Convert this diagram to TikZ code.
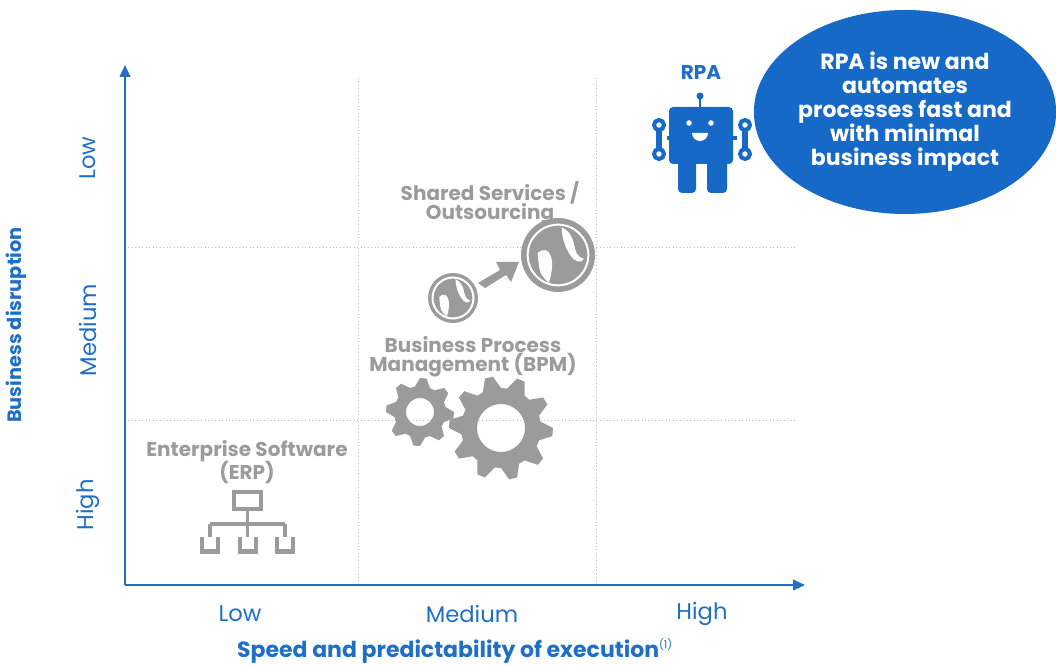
\documentclass[tikz,border=0pt]{standalone}
\usepackage{fontspec}
\setmainfont{Poppins}
\usetikzlibrary{arrows.meta, shapes.geometric}
\definecolor{axisblue}{HTML}{1F6FC5}
\definecolor{robotblue}{HTML}{1769C8}
\definecolor{icongray}{HTML}{9B9B9B}
\definecolor{gridgray}{HTML}{BDBDBD}
\tikzset{
    axis/.style={axisblue, line width=1.3pt, -{Triangle[length=9pt,width=8pt]}},
    grid/.style={gridgray, dotted, line width=0.6pt},
    tick/.style={axisblue, font=\fontsize{17}{19}\selectfont},
    label/.style={icongray, font=\fontsize{15}{16}\selectfont\bfseries, align=center},
    title/.style={axisblue, font=\fontsize{16.5}{18}\selectfont\bfseries}
}
\begin{document}
\begin{tikzpicture}[x=0.75pt, y=-0.75pt]
    \useasboundingbox (0,0) rectangle (1056,666);

    % grid
    \foreach \a in {358,596}{
        \draw[grid] (\a,78)--(\a,585);
    }
    \foreach \a in {247,420}{
        \draw[grid] (125,\a)--(795,\a);
    }

    % axes
    \coordinate (origin) at (125,585);
    \coordinate (ytop) at (125,65);
    \coordinate (xend) at (805,585);
    \draw[axis] (origin)--(ytop);
    \draw[axis] (origin)--(xend);

    % tick labels
    \node[tick, rotate=90] (ylow) at (88,158) {Low};
    \node[tick, rotate=90] (ymed) at (88,330) {Medium};
    \node[tick, rotate=90] (yhigh) at (88,505) {High};
    \node[tick] (xlow) at (240,614) {Low};
    \node[tick] (xmed) at (472,614) {Medium};
    \node[tick] (xhigh) at (702,614) {High};
    \node[title, rotate=90, font=\fontsize{14.5}{16}\selectfont\bfseries] (ytitle) at (16,325) {Business disruption};
    \node[title] (xtitle) at (455,651) {Speed and predictability of execution\textsuperscript{\fontsize{8}{9}\selectfont\mdseries(1)}};

    % labels
    \node[label] (erp) at (247,462) {Enterprise Software\\[-2pt](ERP)};
    \node[label] (bpm) at (473,357) {Business Process\\[-2pt]Management (BPM)};
    \node[label] (ssc) at (490,203) {Shared Services /\\[-2pt]Outsourcing};
    \node[title, font=\fontsize{15}{17}\selectfont\bfseries] (rpa) at (701,72) {RPA};

    % ERP hierarchy
    \fill[icongray] (232,490) rectangle (263,511);
    \fill[white] (236,494) rectangle (259,507);
    \draw[icongray, line width=2.5pt] (247.5,511)--(247.5,524) (210,524)--(285,524);
    \foreach \b in {210,247.5,285}{
        \draw[icongray, line width=2.5pt] (\b,524)--(\b,540);
        \fill[icongray] (\b-10,537) rectangle (\b+10,554);
        \fill[white] (\b-6,537) rectangle (\b+6,549);
    }

    % gears
    \foreach \cx/\cy/\ro/\ri/\n/\h in {420/412/34/26/8/14, 501/428/52/40/10/24}{
        \fill[icongray, even odd rule]
            plot[domain=0:360, samples=4*\n+1, variable=\t]
                ({\cx+(mod(floor(\t*\n/90+0.5),4)<2 ? \ro : \ri)*cos(\t)},
                 {\cy+(mod(floor(\t*\n/90+0.5),4)<2 ? \ro : \ri)*sin(\t)}) -- cycle
            (\cx,\cy) circle (\h);
    }

    % globes
    \foreach \cx/\cy/\r in {453/298/25, 558/255/37}{
        \fill[icongray] (\cx,\cy) circle (\r);
        \draw[white, line width=1.5pt] (\cx,\cy) circle (0.82*\r);
        \fill[white] (\cx-0.55*\r,\cy-0.05*\r) .. controls (\cx-0.2*\r,\cy-0.35*\r) and (\cx-0.05*\r,\cy+0.2*\r) .. (\cx-0.25*\r,\cy+0.75*\r)
            .. controls (\cx-0.5*\r,\cy+0.5*\r) .. cycle;
        \fill[white] (\cx+0.1*\r,\cy-0.75*\r) .. controls (\cx+0.6*\r,\cy-0.5*\r) and (\cx+0.3*\r,\cy) .. (\cx+0.7*\r,\cy+0.1*\r)
            .. controls (\cx+0.5*\r,\cy+0.4*\r) and (\cx+0.1*\r,\cy-0.2*\r) .. cycle;
    }
    \fill[icongray] (478,283)--(500,270)--(496,262)--(519,262)--(511,282)--(506,275)--(485,288)--cycle;

    % robot
    \fill[robotblue] (700,96) circle (3.5);
    \draw[robotblue, line width=2pt] (700,96)--(700,108);
    \fill[robotblue, rounded corners=3pt] (669,107) rectangle (733,164);
    \fill[robotblue, rounded corners=3pt] (678,160) rectangle (696,193);
    \fill[robotblue, rounded corners=3pt] (707,160) rectangle (727,193);
    \fill[white] (689,123) circle (2.8) (711,123) circle (2.8);
    \fill[white] (708,133) arc (0:180:8) -- cycle;
    \foreach \wx in {659,745}{
        \draw[robotblue, line width=4pt] (\wx,128)--(\wx,150);
        \draw[robotblue, line width=3pt] (\wx,125) circle (5);
        \draw[robotblue, line width=3pt] (\wx,154) circle (5);
    }
    \draw[robotblue, line width=2.5pt] (667,138)--(669,138) (733,138)--(737,138);

    % callout
    \node[ellipse, fill=robotblue, minimum width=264*0.75pt, minimum height=204*0.75pt,
        text=white, align=center, font=\fontsize{16.5}{18}\selectfont\bfseries, inner sep=0pt] (callout) at (905,112)
        {RPA is new and\\automates\\processes fast and\\with minimal\\business impact};
\end{tikzpicture}
\end{document}
